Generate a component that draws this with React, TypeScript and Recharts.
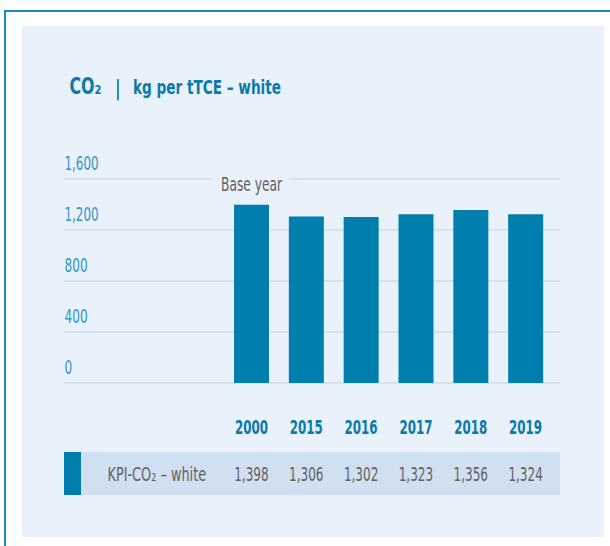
import { BarChart, Bar, XAxis, YAxis, CartesianGrid, LabelList } from 'recharts';

const years = ['2000', '2015', '2016', '2017', '2018', '2019'];
const kpiValues = [1398, 1306, 1302, 1323, 1356, 1324];
const yTicks = [0, 400, 800, 1200, 1600];
const baseYearLabel = 'Base year';
const rowLabel = 'KPI-CO₂ – white';

const data = years.map((year, i) => ({ year, value: kpiValues[i] }));

const FONT = '"DejaVu Sans Condensed", "Liberation Sans Narrow", "DejaVu Sans", sans-serif';
const PANEL = '#e9f1fa';
const BLUE = '#007eae';
const TITLE_BLUE = '#0a7aab';
const LIGHT_BLUE = '#3595c6';
const GRAY = '#626262';
const PLOT_LEFT = 64;

const fmt = (v: number) => v.toLocaleString('en-US');

// rough width of a condensed number string, so text keeps the narrow look whatever font is found
const numWidth = (s: string, digit: number) =>
    s.split('').reduce((w, c) => w + (c === ',' ? 3.2 : digit), 0);

function Txt({ x, y, text, size, weight = 400, fill, anchor = 'start', width }: any) {
    return (
        <text
            x={x}
            y={y}
            fontFamily={FONT}
            fontSize={size}
            fontWeight={weight}
            fill={fill}
            textAnchor={anchor}
            textLength={width}
            lengthAdjust="spacingAndGlyphs"
        >
            {text}
        </text>
    );
}

const YTick = (props: any) => {
    const { y, payload } = props;
    const s = fmt(payload.value);
    return <Txt x={PLOT_LEFT + 0.5} y={y - 9} text={s} size={20} fill={LIGHT_BLUE} width={numWidth(s, 7.7)} />;
};

const XTick = (props: any) => {
    const { x, y, payload } = props;
    const i = payload.index ?? years.indexOf(payload.value);
    const v = fmt(kpiValues[i]);
    return (
        <g>
            <Txt x={x} y={y + 51} text={payload.value} size={19.5} weight={700} fill={TITLE_BLUE} anchor="middle" width={33} />
            <Txt x={x} y={y + 98} text={v} size={20} fill={GRAY} anchor="middle" width={numWidth(v, 7.8)} />
        </g>
    );
};

const BaseYear = (props: any) => {
    const { x, y, width, index } = props;
    if (index !== 0) return null;
    const cx = x + width / 2;
    return (
        <g>
            <rect x={cx - 39} y={y - 32} width={77} height={10} fill={PANEL} />
            <Txt x={cx} y={y - 14} text={baseYearLabel} size={20} fill={GRAY} anchor="middle" width={61} />
        </g>
    );
};

export default function App() {
    return (
        <div style={{ position: 'absolute', left: 0, top: 0, width: 610, height: 546, overflow: 'hidden', background: '#fff' }}>
            {/* outer frame */}
            <div style={{ position: 'absolute', left: 4, top: 10, width: 700, height: 700, borderTop: '2px solid #1a8cc2', borderLeft: '2px solid #1a8cc2' }} />
            {/* panel */}
            <div style={{ position: 'absolute', left: 22, top: 26, width: 582, height: 511, background: PANEL }} />
            {/* table row background */}
            <div style={{ position: 'absolute', left: 64, top: 452, width: 496, height: 43, background: '#d1e0f0' }} />
            <div style={{ position: 'absolute', left: 64, top: 452, width: 17, height: 43, background: BLUE }} />

            <div style={{ position: 'absolute', left: 0, top: 0 }}>
                <BarChart width={610} height={546} data={data} margin={{ top: 179, left: PLOT_LEFT - 40, right: 50, bottom: 43 }}>
                    <CartesianGrid vertical={false} stroke="#cddcee" strokeWidth={1.5} />
                    <XAxis
                        dataKey="year"
                        height={120}
                        axisLine={false}
                        tickLine={false}
                        tickSize={0}
                        tickMargin={0}
                        padding={{ left: 160, right: 7 }}
                        interval={0}
                        tick={<XTick />}
                    />
                    <YAxis
                        width={40}
                        domain={[0, 1600]}
                        ticks={yTicks}
                        interval={0}
                        axisLine={false}
                        tickLine={false}
                        tick={<YTick />}
                    />
                    <Bar dataKey="value" fill={BLUE} barSize={35} isAnimationActive={false}>
                        <LabelList dataKey="value" content={<BaseYear />} />
                    </Bar>
                </BarChart>
            </div>

            {/* title + row label */}
            <svg width={610} height={546} style={{ position: 'absolute', left: 0, top: 0, pointerEvents: 'none' }}>
                <text x={69.5} y={94} fontFamily={FONT} fontSize={23} fontWeight={700} fill={TITLE_BLUE} textLength={32} lengthAdjust="spacingAndGlyphs">
                    CO₂
                </text>
                <text x={114.5} y={95} fontFamily={FONT} fontSize={22} fill={TITLE_BLUE}>
                    |
                </text>
                <text x={133} y={94} fontFamily={FONT} fontSize={20} fontWeight={700} fill={TITLE_BLUE} textLength={148} lengthAdjust="spacingAndGlyphs">
                    kg per tTCE – white
                </text>
                <text transform="translate(107.5 481) scale(0.715 1)" fontFamily={FONT} fontSize={20} fill={GRAY}>
                    {rowLabel}
                </text>
            </svg>
        </div>
    );
}
